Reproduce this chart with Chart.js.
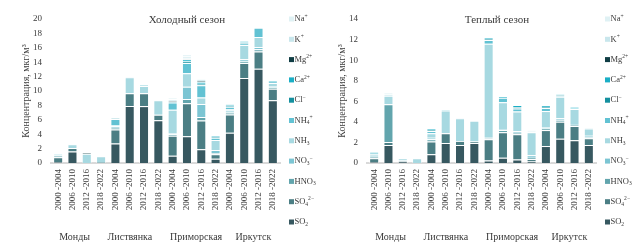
<!DOCTYPE html>
<html>
<head>
<meta charset="utf-8">
<script src="https://cdn.jsdelivr.net/npm/chart.js@4"></script>
<style>
  html, body { margin: 0; padding: 0; background: #fff; }
  .wrap { display: flex; width: 632px; height: 242px; }
  .box { position: relative; width: 316px; height: 242px; }
</style>
</head>
<body>
<div class="wrap">
  <div class="box"><canvas id="cold"></canvas></div>
  <div class="box"><canvas id="warm"></canvas></div>
</div>
<script>
// периоды и станции
const periods = ["2000 -2004", "2006 -2010", "2012 -2016", "2018 -2022"];
const sites = ["Монды", "Листвянка", "Приморская", "Иркутск"];
const categories = sites.flatMap(() => periods);

// компоненты (порядок снизу вверх)
const ions = ["SO₂", "SO₄²⁻", "HNO₃", "NO₃⁻", "NH₃", "NH₄⁺", "Cl⁻", "Ca²⁺", "Mg²⁺", "K⁺", "Na⁺"];
const ionColors = ["#375860", "#4b7e84", "#62a5ad", "#7cc5d3", "#a7d9e1", "#62c2d3",
                   "#14909f", "#1aaec5", "#0f3d44", "#c8e6ec", "#dff1f4"];

// Холодный сезон, мкг/м3
const coldSO2  = [0.15, 1.6, 0, 0,    2.7, 7.9, 7.9, 5.95,  1.0, 3.7, 1.9, 0.6,   4.2, 11.8, 13.1, 8.7];
const coldSO4  = [0.65, 0.5, 0, 0,    1.95, 1.8, 1.8, 0.75, 2.8, 4.6, 4.0, 0.6,   2.55, 2.1, 2.4, 1.6];
const coldHNO3 = [0.2, 0, 0, 0.15,    0.25, 0, 0, 0,        0.2, 0.6, 0.5, 0.2,   0.25, 0.2, 0.3, 0.2];
const coldNO3  = [0, 0, 0, 0,         0.2, 0, 0, 0,         0.1, 1.7, 1.8, 0.4,   0.3, 0.3, 0.3, 0.2];
const coldNH3  = [0.1, 0.5, 1.3, 0.8, 0.1, 2.2, 1.0, 2.0,   3.3, 1.85, 0.9, 1.4,  0.2, 2.0, 1.4, 0.4];
const coldNH4  = [0.1, 0, 0, 0,       0.9, 0.1, 0.1, 0,     1.0, 1.45, 1.7, 0.3,  0.3, 0.2, 1.3, 0.2];
const coldCl   = [0, 0, 0, 0,         0.1, 0, 0, 0,         0.15, 0.2, 0.2, 0.15, 0.15, 0.15, 0, 0];
const coldCa   = [0, 0, 0, 0,         0, 0, 0, 0,           0, 0.3, 0.3, 0.1,     0.15, 0.15, 0, 0.1];
const coldMg   = [0, 0, 0.1, 0,       0, 0, 0, 0,           0.1, 0.1, 0.1, 0,     0, 0, 0, 0];
const coldK    = [0, 0.1, 0, 0,       0, 0, 0, 0.1,         0.2, 0.3, 0.2, 0,     0.1, 0, 0, 0];
const coldNa   = [0, 0, 0, 0,         0, 0, 0, 0,           0.2, 0.3, 0.1, 0,     0, 0, 0, 0];

// Теплый сезон, мкг/м3
const warmSO2  = [0.1, 1.75, 0.15, 0,  0.85, 1.95, 1.75, 1.95, 0.25, 0.5, 0.35, 0.15, 1.65, 2.35, 2.2, 1.75];
const warmSO4  = [0.35, 0.3, 0.1, 0,   1.25, 0.95, 0.4, 0.15,  2.05, 2.5, 2.45, 0.25, 1.55, 1.65, 1.4, 0.65];
const warmHNO3 = [0.15, 3.65, 0, 0,    0.2, 0, 0, 0,           0.1, 0.2, 0.15, 0.1,   0.15, 0.2, 0.1, 0.1];
const warmNO3  = [0.1, 0, 0, 0,        0.15, 0, 0, 0,          0.05, 0.1, 0.15, 0.25, 0.15, 0.15, 0.1, 0.15];
const warmNH3  = [0.2, 0.85, 0.2, 0.45, 0.45, 2.2, 2.2, 2.0,   9.15, 2.6, 1.9, 2.25,  1.55, 2.1, 1.45, 0.7];
const warmNH4  = [0.2, 0, 0, 0,        0.2, 0.1, 0.05, 0,      0.35, 0.45, 0.3, 0,    0.3, 0.05, 0.05, 0];
const warmCl   = [0, 0, 0, 0,          0.1, 0, 0, 0,           0.1, 0, 0.15, 0,       0.1, 0.1, 0, 0];
const warmCa   = [0, 0, 0, 0,          0.1, 0, 0, 0,           0.1, 0.15, 0.2, 0,     0.15, 0.05, 0.15, 0];
const warmMg   = [0, 0, 0, 0,          0, 0, 0, 0,             0, 0, 0, 0,            0, 0, 0, 0];
const warmK    = [0, 0.1, 0, 0,        0, 0, 0, 0,             0, 0, 0, 0.1,          0, 0, 0, 0.1];
const warmNa   = [0, 0.2, 0, 0,        0, 0, 0, 0,             0, 0, 0, 0.05,         0, 0, 0, 0];

const coldSeries = [coldSO2, coldSO4, coldHNO3, coldNO3, coldNH3, coldNH4, coldCl, coldCa, coldMg, coldK, coldNa];
const warmSeries = [warmSO2, warmSO4, warmHNO3, warmNO3, warmNH3, warmNH4, warmCl, warmCa, warmMg, warmK, warmNa];

const FONT = '"Liberation Serif", "DejaVu Serif", serif';
const TXT = "#3a3a3a";

// индексы рисуем уменьшенным шрифтом
const SUB = { "₂": "2", "₃": "3", "₄": "4" };
const SUP = { "²": "2", "⁺": "+", "⁻": "−" };
function drawRich(ctx, text, x, y, size) {
  for (const ch of text) {
    let t = ch, s = size, dy = 0;
    if (SUB[ch]) { t = SUB[ch]; s = size * 0.65; dy = size * 0.28; }
    else if (SUP[ch]) { t = SUP[ch]; s = size * 0.65; dy = -size * 0.32; }
    ctx.font = s + "px " + FONT;
    ctx.fillText(t, x, y + dy);
    x += ctx.measureText(t).width;
  }
}

// заголовок, подписи станций и легенда рисуются прямо на холсте
const decor = {
  id: "decor",
  afterDraw(chart, args, opts) {
    const { ctx, chartArea } = chart;
    const x = chart.scales.x;
    ctx.save();
    ctx.fillStyle = TXT;
    ctx.textBaseline = "middle";
    ctx.textAlign = "center";
    ctx.font = "11px " + FONT;
    ctx.fillText(opts.title, opts.titleX, 20);

    ctx.font = "10px " + FONT;
    const shift = [-5, -7, 2, 2];
    sites.forEach((s, g) => {
      const xc = (x.getPixelForValue(g * 4) + x.getPixelForValue(g * 4 + 3)) / 2 + shift[g];
      ctx.fillText(s, xc, 237);
    });

    ctx.textAlign = "left";
    const ds = chart.data.datasets;
    for (let k = 0; k < ds.length; k++) {
      const d = ds[ds.length - 1 - k];
      const y = 19 + k * 20.3;
      ctx.fillStyle = d.backgroundColor;
      ctx.fillRect(chartArea.right + 9, y - 2.5, 5, 5);
      ctx.fillStyle = TXT;
      drawRich(ctx, d.label, chartArea.right + 14.5, y, 8.5);
    }
    ctx.restore();
  }
};

function makeChart(id, series, title, titleX, yMax) {
  new Chart(document.getElementById(id), {
    type: "bar",
    data: {
      labels: categories,
      datasets: ions.map((name, i) => ({
        label: name,
        data: series[i],
        backgroundColor: ionColors[i],
        borderColor: "rgba(255,255,255,0.45)",
        borderWidth: 1,
        barPercentage: 0.7,
        categoryPercentage: 1
      }))
    },
    options: {
      responsive: true,
      maintainAspectRatio: false,
      animation: false,
      layout: { padding: { top: 19, right: 36, left: 0, bottom: 0 } },
      plugins: {
        legend: { display: false },
        tooltip: { enabled: false },
        decor: { title: title, titleX: titleX }
      },
      scales: {
        x: {
          stacked: true,
          grid: { display: false, drawTicks: false },
          border: { display: true, color: "#d9d9d9", width: 2 },
          ticks: { color: TXT, font: { family: FONT, size: 9 }, minRotation: 90, maxRotation: 90, padding: 6, autoSkip: false },
          afterFit(s) { s.height = 79; }
        },
        y: {
          stacked: true,
          min: 0,
          max: yMax,
          grid: { display: false, drawTicks: false },
          border: { display: false },
          ticks: { stepSize: 2, color: TXT, font: { family: FONT, size: 9 }, padding: 9 },
          title: {
            display: true,
            text: "Концентрация, мкг/м³",
            color: TXT,
            font: { family: FONT, size: 10 },
            padding: { top: 20, bottom: 0 }
          },
          afterFit(s) { s.width = 51; }
        }
      }
    },
    plugins: [decor]
  });
}

makeChart("cold", coldSeries, "Холодный сезон", 187, 20);
makeChart("warm", warmSeries, "Теплый сезон", 181, 14);
</script>
</body>
</html>
